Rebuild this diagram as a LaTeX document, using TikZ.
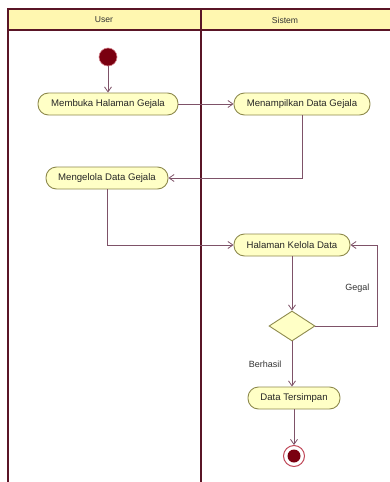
\documentclass[tikz,border=0pt]{standalone}
\usepackage{fontspec}
\setmainfont{Liberation Sans}
\usetikzlibrary{arrows.meta,shapes.geometric}
\definecolor{lanered}{HTML}{5A1526}
\definecolor{headfill}{HTML}{FFF7B0}
\definecolor{actfill}{HTML}{FFFFC6}
\definecolor{actdraw}{HTML}{8E8A4E}
\definecolor{flow}{HTML}{7E5268}
\definecolor{dotred}{HTML}{7A0010}
\definecolor{ringred}{HTML}{C04858}
\tikzset{
  x=1pt, y=-1pt,
  every node/.style={font=\fontsize{9.6}{11}\selectfont, text=black!85},
  action/.style={draw=actdraw, fill=actfill, line width=0.9pt, rounded corners=10.5pt,
    minimum height=22pt, inner sep=0pt},
  decision/.style={draw=actdraw, fill=actfill, line width=0.9pt, diamond, aspect=1.6,
    minimum width=46pt, minimum height=30pt, inner sep=0pt},
  flowline/.style={draw=flow, line width=0.8pt, -{Straight Barb[length=5pt,width=7pt]}},
  lane/.style={draw=lanered, line width=1.4pt},
  lanelabel/.style={font=\fontsize{8.6}{10}\selectfont, text=black!80},
  guard/.style={font=\fontsize{9}{10}\selectfont, text=black!80}
}
\begin{document}
\begin{tikzpicture}
\useasboundingbox (0,0) rectangle (390,482);
\fill[white] (0,0) rectangle (390,482);

% swimlane header band and borders
\fill[headfill] (8,9) rectangle (395,30);
\draw[lane] (395,9) -- (8,9) -- (8,490);
\draw[lane] (8,30) -- (395,30);
\draw[lane] (201,9) -- (201,490);
\node[lanelabel] (laneuser) at (104,20) {User};
\node[lanelabel] (lanesys) at (285,20) {Sistem};

% start and end nodes
\node[circle, fill=dotred, draw=ringred!70, line width=0.6pt, minimum size=18pt, inner sep=0pt] (start) at (108,57) {};
\node[circle, draw=ringred, fill=white, line width=1pt, minimum size=21pt, inner sep=0pt] (final) at (294,456) {};
\node[circle, fill=dotred, minimum size=13pt, inner sep=0pt] (finaldot) at (294,456) {};

% activities
\node[action, minimum width=140pt] (buka) at (108,104) {Membuka Halaman Gejala};
\node[action, minimum width=136pt] (tampil) at (302,104) {Menampilkan Data Gejala};
\node[action, minimum width=122pt] (kelola) at (107,178) {Mengelola Data Gejala};
\node[action, minimum width=116pt] (halaman) at (292,245) {Halaman Kelola Data};
\node[decision] (cek) at (292,326) {};
\node[action, minimum width=92pt] (simpan) at (294,398) {Data Tersimpan};
\coordinate (loop) at (377,245);

% flows
\draw[flowline] (start) -- (buka);
\draw[flowline] (buka) -- (tampil);
\draw[flowline] (tampil.south) |- (kelola.east);
\draw[flowline] (kelola.south) |- (halaman.west);
\draw[flowline] (halaman.south) -- (cek.north);
\draw[flowline] (cek.east) -| (loop) -- (halaman.east);
\draw[flowline] (cek.south) -- (simpan.north -| cek.south);
\draw[flowline] (simpan.south) -- (final.north);

% guards
\node[guard, anchor=east] (gagal) at (373,288) {Gegal};
\node[guard, anchor=east] (berhasil) at (285,364) {Berhasil};
\end{tikzpicture}
\end{document}
